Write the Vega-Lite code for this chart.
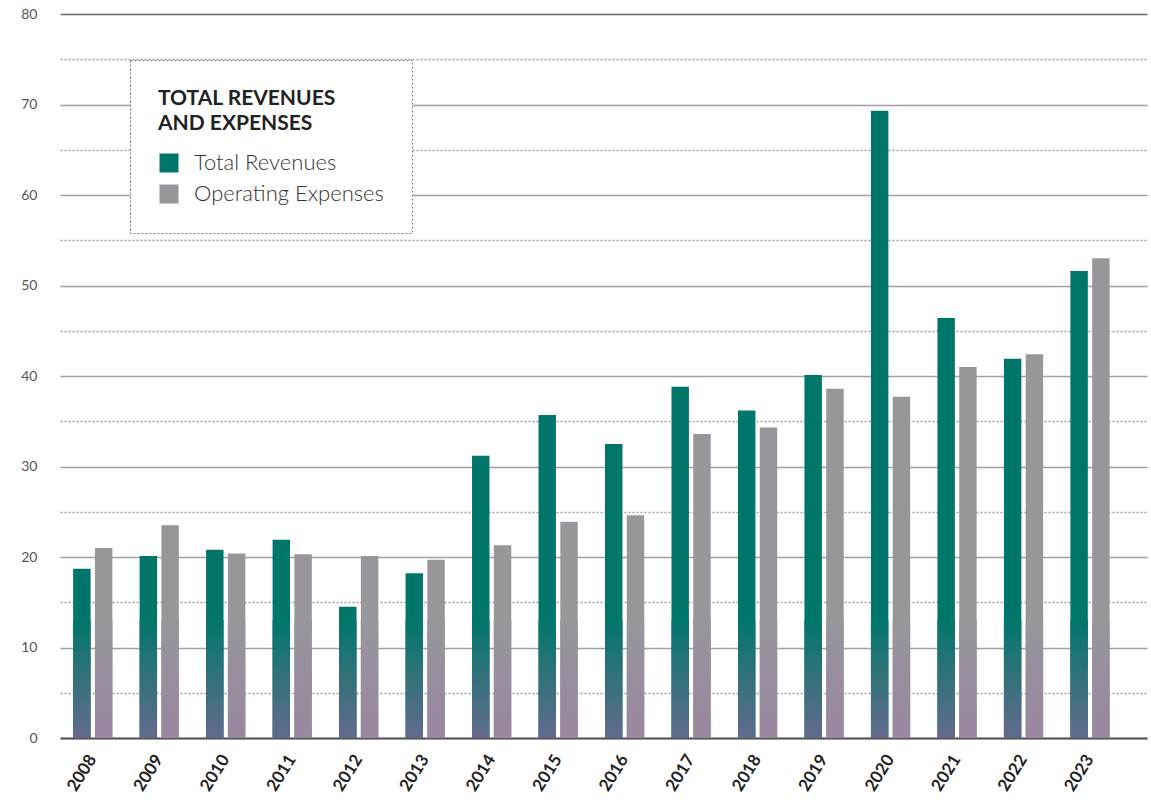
{
  "$schema": "https://vega.github.io/schema/vega-lite/v6.json",
  "width": 1087,
  "height": 724,
  "autosize": {"type": "none"},
  "padding": {"left": 60, "top": 14, "right": 4, "bottom": 74},
  "background": "white",
  "config": {"view": {"stroke": null}, "font": "Lato"},
  "data": {
    "values": [
      {"year": "2008", "series": "Total Revenues", "value": 18.7},
      {"year": "2008", "series": "Operating Expenses", "value": 21.0},
      {"year": "2009", "series": "Total Revenues", "value": 20.1},
      {"year": "2009", "series": "Operating Expenses", "value": 23.5},
      {"year": "2010", "series": "Total Revenues", "value": 20.8},
      {"year": "2010", "series": "Operating Expenses", "value": 20.4},
      {"year": "2011", "series": "Total Revenues", "value": 21.9},
      {"year": "2011", "series": "Operating Expenses", "value": 20.3},
      {"year": "2012", "series": "Total Revenues", "value": 14.5},
      {"year": "2012", "series": "Operating Expenses", "value": 20.1},
      {"year": "2013", "series": "Total Revenues", "value": 18.2},
      {"year": "2013", "series": "Operating Expenses", "value": 19.7},
      {"year": "2014", "series": "Total Revenues", "value": 31.2},
      {"year": "2014", "series": "Operating Expenses", "value": 21.3},
      {"year": "2015", "series": "Total Revenues", "value": 35.7},
      {"year": "2015", "series": "Operating Expenses", "value": 23.9},
      {"year": "2016", "series": "Total Revenues", "value": 32.5},
      {"year": "2016", "series": "Operating Expenses", "value": 24.6},
      {"year": "2017", "series": "Total Revenues", "value": 38.8},
      {"year": "2017", "series": "Operating Expenses", "value": 33.6},
      {"year": "2018", "series": "Total Revenues", "value": 36.2},
      {"year": "2018", "series": "Operating Expenses", "value": 34.3},
      {"year": "2019", "series": "Total Revenues", "value": 40.1},
      {"year": "2019", "series": "Operating Expenses", "value": 38.6},
      {"year": "2020", "series": "Total Revenues", "value": 69.3},
      {"year": "2020", "series": "Operating Expenses", "value": 37.7},
      {"year": "2021", "series": "Total Revenues", "value": 46.4},
      {"year": "2021", "series": "Operating Expenses", "value": 41.0},
      {"year": "2022", "series": "Total Revenues", "value": 41.9},
      {"year": "2022", "series": "Operating Expenses", "value": 42.4},
      {"year": "2023", "series": "Total Revenues", "value": 51.6},
      {"year": "2023", "series": "Operating Expenses", "value": 53.0}
    ]
  },
  "encoding": {
    "x": {
      "field": "year", "type": "nominal", "sort": null,
      "scale": {"paddingInner": 0.41, "paddingOuter": 0.38, "align": 0.26},
      "axis": {
        "title": null, "ticks": false, "labelAngle": -58, "labelPadding": 18,
        "labelFontSize": 17, "labelFontWeight": "bold", "labelColor": "#222",
        "domainColor": "#555", "domainWidth": 2, "grid": false
      }
    },
    "xOffset": {
      "field": "series", "type": "nominal",
      "scale": {"domain": ["Total Revenues", "Operating Expenses"], "paddingInner": 0.2}
    }
  },
  "layer": [
    {
      "mark": {"type": "bar"},
      "encoding": {
        "y": {
          "field": "value", "type": "quantitative",
          "scale": {"domain": [0, 80], "nice": false},
          "axis": {
            "title": null, "domain": false, "ticks": false,
            "values": [0,5,10,15,20,25,30,35,40,45,50,55,60,65,70,75,80],
            "labelExpr": "datum.value % 10 === 0 ? datum.label : ''",
            "labelPadding": 23, "labelFontSize": 14, "labelColor": "#555",
            "labelFont": "Lato",
            "grid": true,
            "gridColor": {"condition": {"test": "datum.value === 80", "value": "#666666"}, "value": "#a0a0a0"},
            "gridDash": {"condition": {"test": "datum.value % 10 !== 0", "value": [2, 2]}, "value": []},
            "gridWidth": 1.5
          }
        },
        "color": {
          "field": "series", "type": "nominal",
          "scale": {"domain": ["Total Revenues", "Operating Expenses"], "range": ["#00766b", "#97979b"]},
          "legend": {
            "orient": "none", "legendX": 70, "legendY": 46,
            "title": ["TOTAL REVENUES", "AND EXPENSES"],
            "titleFontSize": 21, "titleFontWeight": "bold", "titleColor": "#222",
            "titleLineHeight": 25, "titlePadding": 18, "titleFont": "Lato", "titleLimit": 400,
            "symbolType": "square", "symbolSize": 361,
            "labelFontSize": 22, "labelFontWeight": 300, "labelColor": "#333", "labelFont": "Lato",
            "labelOffset": 14, "rowPadding": 9, "labelLimit": 400,
            "padding": 28, "fillColor": "white", "strokeColor": "#777",
            "encode": {"legend": {"update": {"strokeDash": {"value": [2, 2]}}}}
          }
        }
      }
    },
    {
      "transform": [{"filter": "datum.series === 'Total Revenues'"}],
      "mark": {
        "type": "bar",
        "color": {"gradient": "linear", "x1": 0, "y1": 0, "x2": 0, "y2": 1,
          "stops": [{"offset": 0, "color": "#00766b"}, {"offset": 0.45, "color": "#2f7279"}, {"offset": 1, "color": "#636a8c"}]}
      },
      "encoding": {"y": {"datum": 13, "type": "quantitative"}, "y2": {"datum": 0}}
    },
    {
      "transform": [{"filter": "datum.series === 'Operating Expenses'"}],
      "mark": {
        "type": "bar",
        "color": {"gradient": "linear", "x1": 0, "y1": 0, "x2": 0, "y2": 1,
          "stops": [{"offset": 0, "color": "#97979b"}, {"offset": 0.45, "color": "#988e9e"}, {"offset": 1, "color": "#9a87a0"}]}
      },
      "encoding": {"y": {"datum": 13, "type": "quantitative"}, "y2": {"datum": 0}}
    }
  ]
}
